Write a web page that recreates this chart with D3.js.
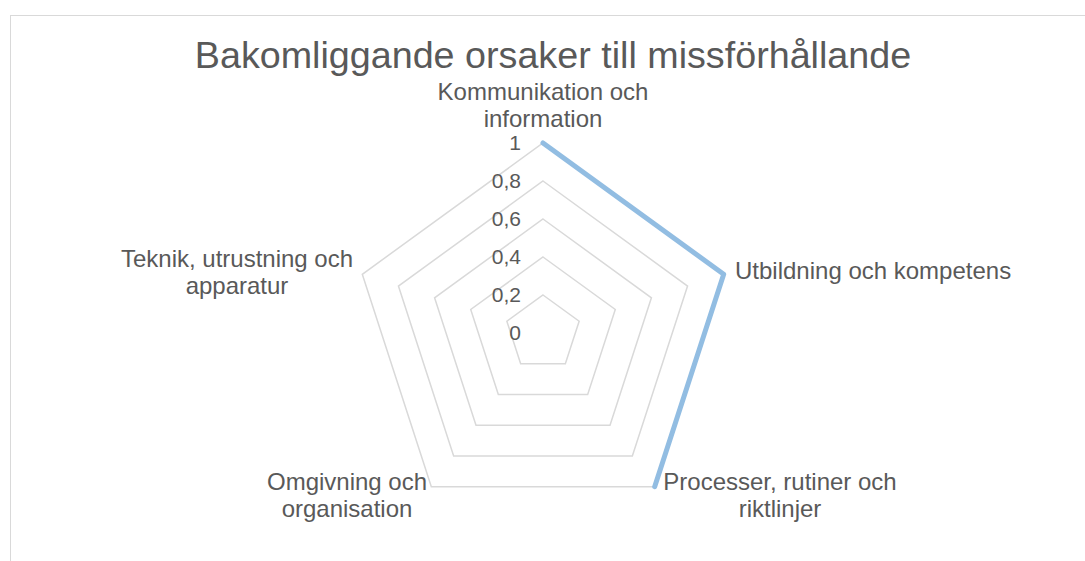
<!DOCTYPE html>
<html>
<head>
<meta charset="utf-8">
<script src="https://cdn.jsdelivr.net/npm/d3@7"></script>
<style>
  body { margin: 0; background: #fff; }
  svg { font-family: "Liberation Sans", Arial, sans-serif; }
</style>
</head>
<body>
<svg width="1085" height="561"></svg>
<script>
const categories = ['Kommunikation och information', 'Utbildning och kompetens', 'Processer, rutiner och riktlinjer', 'Omgivning och organisation', 'Teknik, utrustning och apparatur'];
const values = [1, 1, 1, null, null];
const ticks = [0, 0.2, 0.4, 0.6, 0.8, 1];
const tickLabels = ['0', '0,2', '0,4', '0,6', '0,8', '1'];

// label lines as drawn in the chart
const labelLines = [
  ['Kommunikation och', 'information'],
  ['Utbildning och kompetens'],
  ['Processer, rutiner och', 'riktlinjer'],
  ['Omgivning och', 'organisation'],
  ['Teknik, utrustning och', 'apparatur']
];

var svgWidth = 1085;
var svgHeight = 561;
var cx = 543;
var cy = 333;
var radius = 190;

var svg = d3.select('svg')
			.attr('width', svgWidth)
			.attr('height', svgHeight);

// chart border
svg.append('rect')
	.attr('x', 10.5)
	.attr('y', 15.5)
	.attr('width', 1090)
	.attr('height', 560)
	.attr('fill', 'none')
	.attr('stroke', '#d9d9d9')
	.attr('stroke-width', 1);

svg.append('text')
	.attr('x', 553)
	.attr('y', 68)
	.attr('text-anchor', 'middle')
	.attr('font-size', 37.7)
	.attr('fill', '#595959')
	.text('Bakomliggande orsaker till missförhållande');

var rScale = d3.scaleLinear()
				.domain([0, 1])
				.range([0, radius]);

var angle = d3.scaleLinear()
				.domain([0, categories.length])
				.range([0, 2 * Math.PI]);

var g = svg.append('g')
			.attr('transform', 'translate(' + cx + ',' + cy + ')');

function pt(i, v) {
	let a = angle(i);
	return [rScale(v) * Math.sin(a), -rScale(v) * Math.cos(a)];
}

// grid rings
g.selectAll('.ring')
	.data(ticks.slice(1))
	.enter()
	.append('polygon')
	.attr('class', 'ring')
	.attr('points', d => categories.map((c, i) => pt(i, d).join(',')).join(' '))
	.attr('fill', 'none')
	.attr('stroke', '#d9d9d9')
	.attr('stroke-width', 1.5);

// tick labels
g.selectAll('.tick')
	.data(ticks)
	.enter()
	.append('text')
	.attr('class', 'tick')
	.attr('x', -22)
	.attr('y', d => -rScale(d))
	.attr('dy', '0.35em')
	.attr('text-anchor', 'end')
	.attr('font-size', 21)
	.attr('fill', '#595959')
	.text((d, i) => tickLabels[i]);

// series line
var line = d3.line()
			.defined(d => d.v !== null)
			.x(d => pt(d.i, d.v)[0])
			.y(d => pt(d.i, d.v)[1]);

g.append('path')
	.datum(values.map((v, i) => ({ i: i, v: v })))
	.attr('d', line)
	.attr('fill', 'none')
	.attr('stroke', '#92bde2')
	.attr('stroke-width', 5)
	.attr('stroke-linejoin', 'round')
	.attr('stroke-linecap', 'round');

// category labels
var labelPos = [
	{ x: 0, y: -241, anchor: 'middle' },
	{ x: 192, y: -62, anchor: 'start' },
	{ x: 237, y: 149, anchor: 'middle' },
	{ x: -196, y: 149, anchor: 'middle' },
	{ x: -306, y: -74, anchor: 'middle' }
];

var labels = g.selectAll('.cat')
				.data(categories)
				.enter()
				.append('text')
				.attr('class', 'cat')
				.attr('font-size', 24)
				.attr('fill', '#595959')
				.attr('text-anchor', (d, i) => labelPos[i].anchor)
				.attr('transform', (d, i) => 'translate(' + [labelPos[i].x, labelPos[i].y] + ')');

labels.selectAll('tspan')
	.data((d, i) => labelLines[i])
	.enter()
	.append('tspan')
	.attr('x', 0)
	.attr('y', (d, j) => j * 27)
	.attr('dy', '0.35em')
	.text(d => d);
</script>
</body>
</html>
